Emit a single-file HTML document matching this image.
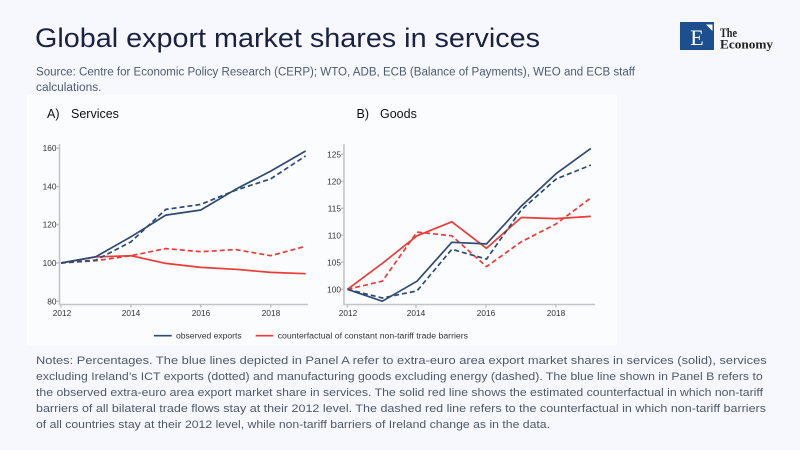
<!DOCTYPE html>
<html><head><meta charset="utf-8"><style>
html,body{margin:0;padding:0;background:#f7f8fd;}
svg{display:block;}
</style></head><body>
<svg width="800" height="450" viewBox="0 0 800 450" xmlns="http://www.w3.org/2000/svg" font-family="'Liberation Sans', Arial, sans-serif">
<rect x="0" y="0" width="800" height="450" fill="#f7f8fd"/>
<rect x="27" y="95" width="590" height="250" fill="#fbfcfe"/>

<!-- Title -->
<text x="35" y="47" font-size="27" fill="#1b2140" textLength="505" lengthAdjust="spacingAndGlyphs">Global export market shares in services</text>
<text x="36" y="75.5" font-size="11.5" fill="#4f5a70" textLength="599" lengthAdjust="spacingAndGlyphs">Source: Centre for Economic Policy Research (CERP); WTO, ADB, ECB (Balance of Payments), WEO and ECB staff</text>
<text x="36" y="91" font-size="11.5" fill="#4f5a70" textLength="65.5" lengthAdjust="spacingAndGlyphs">calculations.</text>

<!-- Logo -->
<rect x="680" y="22" width="34" height="28" fill="#1d4f8e"/>
<text x="697" y="45" font-size="22" font-family="'Liberation Serif', serif" fill="#ffffff" text-anchor="middle">E</text>
<polygon points="706,24.5 712.5,24.5 712.5,31" fill="#ffffff"/>
<text x="720" y="37" font-size="13" font-weight="bold" font-family="'Liberation Serif', serif" fill="#222222" textLength="17" lengthAdjust="spacingAndGlyphs">The</text>
<text x="720" y="48.5" font-size="13" font-weight="bold" font-family="'Liberation Serif', serif" fill="#222222" textLength="53" lengthAdjust="spacingAndGlyphs">Economy</text>

<!-- Panel titles -->
<text x="47" y="118" font-size="12.5" fill="#111">A)</text>
<text x="71" y="118" font-size="12.5" fill="#111">Services</text>
<text x="356.5" y="118" font-size="12.5" fill="#111">B)</text>
<text x="380" y="118" font-size="12.5" fill="#111">Goods</text>

<!-- Panel A axes -->
<g stroke="#c4c4c8" stroke-width="1.6" fill="none">
<line x1="59.5" y1="144" x2="59.5" y2="305"/>
<line x1="59" y1="304.5" x2="308" y2="304.5"/>
<line x1="56.5" y1="148.2" x2="59.5" y2="148.2"/>
<line x1="56.5" y1="186.6" x2="59.5" y2="186.6"/>
<line x1="56.5" y1="224.7" x2="59.5" y2="224.7"/>
<line x1="56.5" y1="263" x2="59.5" y2="263"/>
<line x1="56.5" y1="301.3" x2="59.5" y2="301.3"/>
<line x1="61" y1="304.5" x2="61" y2="307.5"/>
<line x1="130.9" y1="304.5" x2="130.9" y2="307.5"/>
<line x1="200.8" y1="304.5" x2="200.8" y2="307.5"/>
<line x1="270.7" y1="304.5" x2="270.7" y2="307.5"/>
</g>
<g font-size="8.3" fill="#333" text-anchor="end">
<text x="56.5" y="151.2">160</text>
<text x="56.5" y="189.6">140</text>
<text x="56.5" y="227.7">120</text>
<text x="56.5" y="266">100</text>
<text x="56.5" y="304.3">80</text>
</g>
<g font-size="8.3" fill="#333" text-anchor="middle">
<text x="62" y="315.8">2012</text>
<text x="131" y="315.8">2014</text>
<text x="201" y="315.8">2016</text>
<text x="271" y="315.8">2018</text>
</g>

<!-- Panel A series -->
<g fill="none" stroke-width="1.7" stroke-linejoin="round">
<polyline stroke="#ee3a36" points="61,263 95.9,256.9 130.9,255.7 165.8,263.4 200.8,267.4 235.7,269.3 270.7,272.4 305.6,273.7"/>
<polyline stroke="#ee3a36" stroke-dasharray="5,3" points="61,263 95.9,260.7 130.9,255.7 165.8,248.6 200.8,251.7 235.7,249.6 270.7,255.7 305.6,246.3"/>
<polyline stroke="#2e4a72" points="61,263 95.9,256.7 130.9,236.8 165.8,215.1 200.8,210 235.7,189.3 270.7,171.1 305.6,151"/>
<polyline stroke="#2e4a72" stroke-dasharray="5,3" points="61,263 95.9,260.1 130.9,241.9 165.8,209.4 200.8,204.4 235.7,190.2 270.7,178.9 305.6,155.9"/>
</g>

<!-- Panel B axes -->
<g stroke="#c4c4c8" stroke-width="1.6" fill="none">
<line x1="344" y1="144" x2="344" y2="305"/>
<line x1="343.5" y1="304.5" x2="595" y2="304.5"/>
<line x1="341" y1="154.3" x2="344" y2="154.3"/>
<line x1="341" y1="181.3" x2="344" y2="181.3"/>
<line x1="341" y1="208.3" x2="344" y2="208.3"/>
<line x1="341" y1="235.3" x2="344" y2="235.3"/>
<line x1="341" y1="262.3" x2="344" y2="262.3"/>
<line x1="341" y1="289.3" x2="344" y2="289.3"/>
<line x1="347.5" y1="304.5" x2="347.5" y2="307.5"/>
<line x1="416" y1="304.5" x2="416" y2="307.5"/>
<line x1="486" y1="304.5" x2="486" y2="307.5"/>
<line x1="556" y1="304.5" x2="556" y2="307.5"/>
</g>
<g font-size="8.3" fill="#333" text-anchor="end">
<text x="341" y="157.3">125</text>
<text x="341" y="184.3">120</text>
<text x="341" y="211.3">115</text>
<text x="341" y="238.3">110</text>
<text x="341" y="265.3">105</text>
<text x="341" y="292.3">100</text>
</g>
<g font-size="8.3" fill="#333" text-anchor="middle">
<text x="348" y="315.8">2012</text>
<text x="416" y="315.8">2014</text>
<text x="486" y="315.8">2016</text>
<text x="556" y="315.8">2018</text>
</g>

<!-- Panel B series -->
<g fill="none" stroke-width="1.7" stroke-linejoin="round">
<polyline stroke="#ee3a36" points="347.5,289.3 382.3,263.4 417,235.8 451.8,221.8 486.5,248.3 521.3,217.5 556,218.6 590.8,216.4"/>
<polyline stroke="#ee3a36" stroke-dasharray="5,3" points="347.5,289.3 382.3,281.2 417,232.1 451.8,235.8 486.5,266.6 521.3,241.8 556,224 590.8,198"/>
<polyline stroke="#2e4a72" points="347.5,289.3 382.3,301.2 417,281.2 451.8,242.3 486.5,243.9 521.3,206.1 556,173.7 590.8,148.4"/>
<polyline stroke="#2e4a72" stroke-dasharray="5,3" points="347.5,289.3 382.3,298 417,290.9 451.8,249.3 486.5,259.1 521.3,209.9 556,179.1 590.8,165.1"/>
</g>

<!-- Legend -->
<line x1="154" y1="335.7" x2="171.7" y2="335.7" stroke="#2e4a72" stroke-width="1.7"/>
<text x="176" y="338.5" font-size="8" fill="#333" textLength="65.7" lengthAdjust="spacingAndGlyphs">observed exports</text>
<line x1="255.7" y1="335.7" x2="273.3" y2="335.7" stroke="#ee3a36" stroke-width="1.7"/>
<text x="277.7" y="338.5" font-size="8" fill="#333" textLength="190.3" lengthAdjust="spacingAndGlyphs">counterfactual of constant non-tariff trade barriers</text>

<!-- Notes -->
<g font-size="11" fill="#4f5868">
<text x="36" y="364" textLength="730.7" lengthAdjust="spacingAndGlyphs">Notes: Percentages. The blue lines depicted in Panel A refer to extra-euro area export market shares in services (solid), services</text>
<text x="36" y="380" textLength="726.7" lengthAdjust="spacingAndGlyphs">excluding Ireland’s ICT exports (dotted) and manufacturing goods excluding energy (dashed). The blue line shown in Panel B refers to</text>
<text x="36" y="396" textLength="727" lengthAdjust="spacingAndGlyphs">the observed extra-euro area export market share in services. The solid red line shows the estimated counterfactual in which non-tariff</text>
<text x="36" y="412" textLength="730" lengthAdjust="spacingAndGlyphs">barriers of all bilateral trade flows stay at their 2012 level. The dashed red line refers to the counterfactual in which non-tariff barriers</text>
<text x="36" y="428" textLength="514" lengthAdjust="spacingAndGlyphs">of all countries stay at their 2012 level, while non-tariff barriers of Ireland change as in the data.</text>
</g>
</svg>
</body></html>
